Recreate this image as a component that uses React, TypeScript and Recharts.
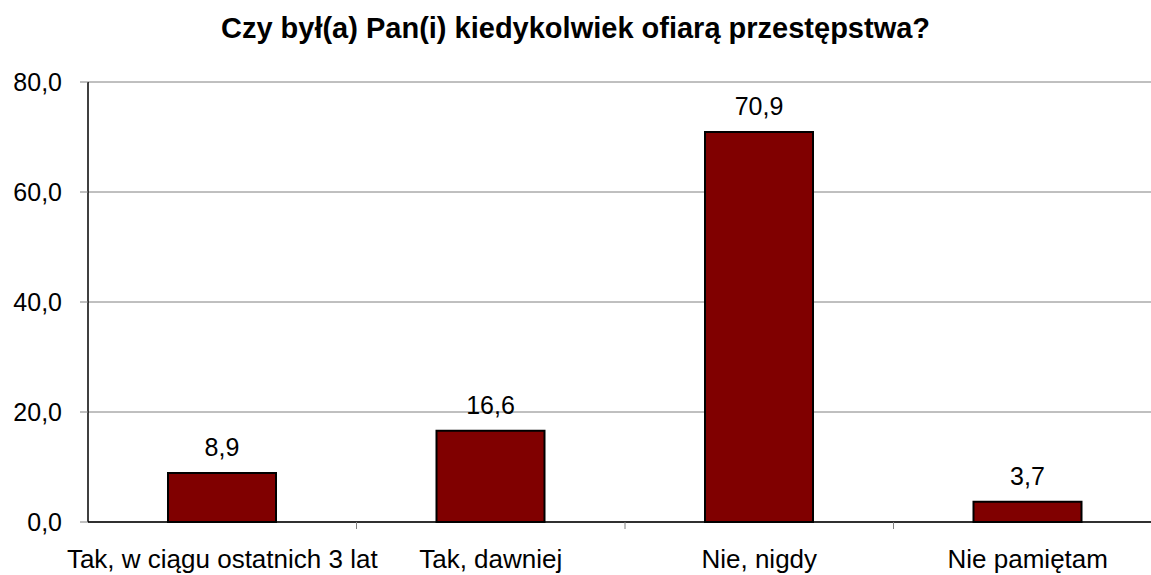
import React from "react";
import { BarChart, Bar, XAxis, YAxis, CartesianGrid, LabelList } from "recharts";

const categories = ["Tak, w ciągu ostatnich 3 lat", "Tak, dawniej", "Nie, nigdy", "Nie pamiętam"];
const values = [8.9, 16.6, 70.9, 3.7];
const yTicks = [0, 20, 40, 60, 80];

const chartTitle = "Czy był(a) Pan(i) kiedykolwiek ofiarą przestępstwa?";

const data = categories.map((name, i) => ({ name, value: values[i] }));

// the plot runs a bit past the right edge of the picture, as in the original
const W = 1151;
const H = 575;
const CHART_W = 1162;
const Y_AXIS_W = 88;
const BAND = (CHART_W - Y_AXIS_W) / categories.length;
const FONT = "'Liberation Sans', Arial, sans-serif";

const fmt = (v: number) => v.toFixed(1).replace(".", ",");

const CategoryTick = (props: any) => {
  const { x, y, payload, index } = props;
  const left = x - BAND / 2;
  return (
    <g>
      {index > 0 && <line x1={left} y1={y} x2={left} y2={y + 7} stroke="#808080" strokeWidth={1} />}
      <text x={x} y={y + 46} textAnchor="middle" fontSize={26} fill="#000" fontFamily={FONT}>
        {payload.value}
      </text>
    </g>
  );
};

const App: React.FC = () => {
  return (
    <div
      style={{
        position: "absolute",
        left: 0,
        top: 0,
        width: W,
        height: H,
        overflow: "hidden",
        background: "#fff",
        fontFamily: FONT,
      }}
    >
      <div
        style={{
          position: "absolute",
          left: 0,
          top: 12,
          width: W,
          textAlign: "center",
          fontSize: 29,
          fontWeight: "bold",
          lineHeight: "33px",
          color: "#000",
        }}
      >
        {chartTitle}
      </div>
      <BarChart width={CHART_W} height={H} data={data} margin={{ top: 82, right: 0, bottom: 0, left: 0 }}>
        <CartesianGrid vertical={false} stroke="#808080" strokeWidth={1} />
        <XAxis
          dataKey="name"
          height={53}
          axisLine={{ stroke: "#000", strokeWidth: 1.5 }}
          tickLine={false}
          tickSize={0}
          tickMargin={0}
          interval={0}
          tick={<CategoryTick />}
        />
        <YAxis
          width={Y_AXIS_W}
          domain={[0, 80]}
          ticks={yTicks}
          interval={0}
          tickFormatter={fmt}
          axisLine={{ stroke: "#000", strokeWidth: 1.5 }}
          tickLine={{ stroke: "#808080" }}
          tickSize={8}
          tickMargin={18}
          tick={{ fontSize: 25, fill: "#000", fontFamily: FONT }}
        />
        <Bar dataKey="value" fill="#800000" stroke="#000" strokeWidth={2} barSize={108} isAnimationActive={false}>
          <LabelList
            dataKey="value"
            position="top"
            offset={17}
            formatter={(v: any) => fmt(Number(v))}
            style={{ fontSize: 25, fill: "#000", fontFamily: FONT }}
          />
        </Bar>
      </BarChart>
    </div>
  );
};

export default App;
